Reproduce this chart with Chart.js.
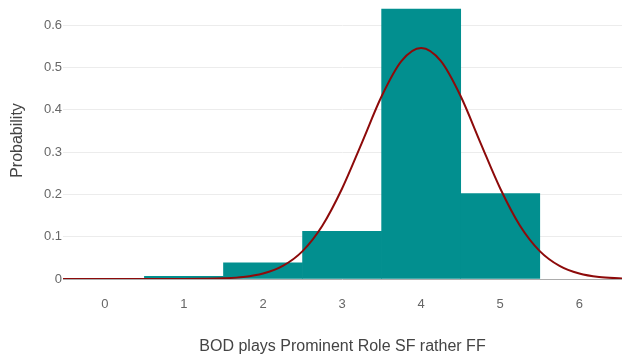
<!DOCTYPE html>
<html>
<head>
<meta charset="utf-8">
<script src="https://cdn.jsdelivr.net/npm/chart.js@4.4.0/dist/chart.umd.min.js"></script>
<style>
  html, body { margin: 0; padding: 0; background: #ffffff; }
  #wrap { width: 622px; height: 354px; position: relative; }
</style>
</head>
<body>
<div id="wrap"><canvas id="c"></canvas></div>
<script>
// Histogram bins (category value) and their observed probabilities
const binCenters = [1, 2, 3, 4, 5];
const binProbs   = [0.0064, 0.038, 0.113, 0.638, 0.202];

// Fitted density curve
const curveX = [-0.53, 0, 0.5, 1, 1.25, 1.5, 1.75, 2, 2.25, 2.5, 2.75, 3, 3.25, 3.5, 3.75, 4,
                4.25, 4.5, 4.75, 5, 5.25, 5.5, 5.75, 6, 6.25, 6.54];
const curveY = [0, 0, 0, 0.0001, 0.0005, 0.0016, 0.0047, 0.013, 0.031, 0.066, 0.126, 0.214, 0.322, 0.432, 0.515, 0.546,
                0.515, 0.432, 0.322, 0.214, 0.126, 0.066, 0.031, 0.013, 0.0047, 0.0012];

// Tick labels
const xTicks = [0, 1, 2, 3, 4, 5, 6];
const yTicks = [0, 0.1, 0.2, 0.3, 0.4, 0.5, 0.6];

const xTitle = 'BOD plays Prominent Role SF rather FF';
const yTitle = 'Probability';

const FONT = '"Liberation Sans", Arial, sans-serif';

new Chart(document.getElementById('c'), {
  type: 'bar',
  data: {
    datasets: [
      {
        type: 'line',
        data: curveX.map((x, i) => ({ x: x, y: curveY[i] })),
        borderColor: '#8d0a0a',
        borderWidth: 2,
        pointRadius: 0,
        fill: false,
        cubicInterpolationMode: 'monotone'
      },
      {
        type: 'bar',
        data: binCenters.map((x, i) => ({ x: x, y: binProbs[i] })),
        backgroundColor: '#028f8f',
        borderWidth: 0,
        barPercentage: 1.0,
        categoryPercentage: 1.0
      }
    ]
  },
  options: {
    responsive: true,
    maintainAspectRatio: false,
    animation: false,
    layout: { padding: { top: 2, left: 0, right: 0, bottom: 0 } },
    plugins: { legend: { display: false }, tooltip: { enabled: false } },
    scales: {
      x: {
        type: 'linear',
        min: -0.53,
        max: 6.54,
        offset: false,
        afterBuildTicks: s => { s.ticks = xTicks.map(v => ({ value: v })); },
        afterFit: s => { s.height = 75; s.paddingLeft = 0; s.paddingRight = 0; },
        ticks: {
          color: '#666666',
          font: { family: FONT, size: 13 },
          padding: 18,
          maxRotation: 0,
          callback: v => String(v)
        },
        grid: { display: false, drawTicks: false, offset: false },
        border: { display: false },
        title: {
          display: true,
          text: xTitle,
          color: '#444444',
          font: { family: FONT, size: 16, lineHeight: 1 },
          padding: { top: 0, bottom: -1 }
        }
      },
      y: {
        min: 0,
        max: 0.655,
        afterBuildTicks: s => { s.ticks = yTicks.map(v => ({ value: v })); },
        afterFit: s => { s.width = 63; s.paddingTop = 0; s.paddingBottom = 0; },
        ticks: {
          color: '#666666',
          font: { family: FONT, size: 13 },
          padding: 1,
          callback: v => String(Math.round(v * 10) / 10)
        },
        grid: {
          drawTicks: false,
          color: ctx => (ctx.tick && ctx.tick.value === 0) ? '#acacac' : '#ececec',
          lineWidth: 1
        },
        border: { display: false },
        title: {
          display: true,
          text: yTitle,
          color: '#444444',
          font: { family: FONT, size: 16 },
          padding: { top: 8, bottom: 0 }
        }
      }
    }
  }
});
</script>
</body>
</html>
